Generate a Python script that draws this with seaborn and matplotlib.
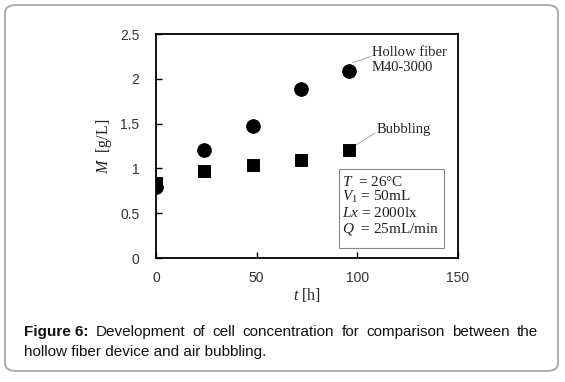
import numpy as np
import pandas as pd
import matplotlib
matplotlib.use('Agg')
import matplotlib.pyplot as plt
import seaborn as sns
from matplotlib.patches import FancyBboxPatch, Rectangle

# data
t_hours = [0, 24, 48, 72, 96]
m_hollow = [0.79, 1.20, 1.47, 1.89, 2.09]
m_bubbling = [0.84, 0.97, 1.04, 1.09, 1.21]

x_ticks = [0, 50, 100, 150]
y_ticks = [0, 0.5, 1, 1.5, 2, 2.5]
y_tick_labels = ['0', '0.5', '1', '1.5', '2', '2.5']

conditions = ['$T$  = 26°C', '$V_1$ = 50mL', '$Lx$ = 2000lx', '$Q$  = 25mL/min']
caption_bold = 'Figure 6:'
caption_line1 = 'Development of cell concentration for comparison between the'
caption_line2 = 'hollow fiber device and air bubbling.'

df = pd.DataFrame({
    't': t_hours * 2,
    'M': m_hollow + m_bubbling,
    'series': ['Hollow fiber M40-3000'] * 5 + ['Bubbling'] * 5,
})

sns.set_theme(style='white')
plt.rcParams['font.family'] = ['Liberation Serif', 'DejaVu Sans']
plt.rcParams['mathtext.fontset'] = 'custom'
plt.rcParams['mathtext.rm'] = 'Liberation Serif'
plt.rcParams['mathtext.it'] = 'Liberation Serif:italic'

fig = plt.figure(figsize=(5.65, 3.82), dpi=100)
fig.patch.set_facecolor('white')

# rounded outer frame
frame = FancyBboxPatch((5 / 565, 11 / 382), 553 / 565, 366 / 382,
                       boxstyle='round,pad=0,rounding_size=0.02',
                       transform=fig.transFigure, facecolor='none',
                       edgecolor='#b0b0b0', linewidth=1.5)
fig.patches.append(frame)

ax = fig.add_axes([156 / 565, 1 - 258 / 382, 302 / 565, 224 / 382])

sns.scatterplot(data=df[df['series'] == 'Bubbling'], x='t', y='M', ax=ax,
                marker='s', s=70, color='black', edgecolor='black', legend=False, zorder=3)
sns.scatterplot(data=df[df['series'] != 'Bubbling'], x='t', y='M', ax=ax,
                marker='o', s=95, color='black', edgecolor='black', legend=False, zorder=4)

ax.set_xlim(0, 150)
ax.set_ylim(0, 2.5)
ax.set_xticks(x_ticks)
ax.set_yticks(y_ticks)
ax.set_yticklabels(y_tick_labels)
ax.tick_params(direction='in', length=4, width=1, colors='black',
               labelcolor='#333333', labelsize=10, bottom=True, left=True)
ax.tick_params(axis='x', pad=9)
ax.tick_params(axis='y', pad=12)
for lab in ax.get_xticklabels() + ax.get_yticklabels():
    lab.set_family(['Liberation Sans', 'DejaVu Sans'])
for sp in ax.spines.values():
    sp.set_linewidth(1.3)
    sp.set_color('black')

ax.set_xlabel('$t$ [h]', fontsize=11.5, color='#222222', labelpad=1)
ax.set_ylabel('$M$  [g/L]', fontsize=11.5, color='#222222', labelpad=4)

# series labels with leader lines
ax.plot([97.8, 106.8], [2.18, 2.25], color='#999999', lw=0.6)
ax.text(107.3, 2.21, 'Hollow fiber\nM40-3000', fontsize=10.5, va='center', ha='left',
        color='#222222', linespacing=1.15)
ax.plot([99.3, 108.8], [1.26, 1.395], color='#999999', lw=0.6)
ax.text(109.8, 1.43, 'Bubbling', fontsize=10.5, va='center', ha='left', color='#222222')

# conditions box
ax.add_patch(Rectangle((90.9, 0.11), 52.1, 0.88, facecolor='white',
                       edgecolor='#888888', lw=0.8, zorder=5))
box_y = [0.85, 0.68, 0.50, 0.32]
for yy, txt in zip(box_y, conditions):
    ax.text(92.2, yy, txt, fontsize=11, va='center', ha='left', color='#222222', zorder=6)

# caption, justified first line
fig.canvas.draw()
renderer = fig.canvas.get_renderer()
sans = ['Liberation Sans', 'DejaVu Sans']
y1 = 1 - 332 / 382
y2 = 1 - 352 / 382
x_left, x_right = 24 / 565, 538 / 565
bold = fig.text(x_left, y1, caption_bold, fontsize=11, weight='bold',
                family=sans, va='center', color='#111111')
words = caption_line1.split()
word_objs = [fig.text(0, y1, w, fontsize=11, family=sans, va='center', color='#111111')
             for w in words]
inv = fig.transFigure.inverted()

def width_of(t):
    bb = t.get_window_extent(renderer)
    return inv.transform((bb.x1, 0))[0] - inv.transform((bb.x0, 0))[0]

items_w = [width_of(bold)] + [width_of(w) for w in word_objs]
gap = (x_right - x_left - sum(items_w)) / len(word_objs)
x = x_left + items_w[0] + gap
for w, ww in zip(word_objs, items_w[1:]):
    w.set_x(x)
    x += ww + gap
fig.text(x_left, y2, caption_line2, fontsize=11, family=sans, va='center', color='#111111')

fig.savefig('out.png', dpi=100)
